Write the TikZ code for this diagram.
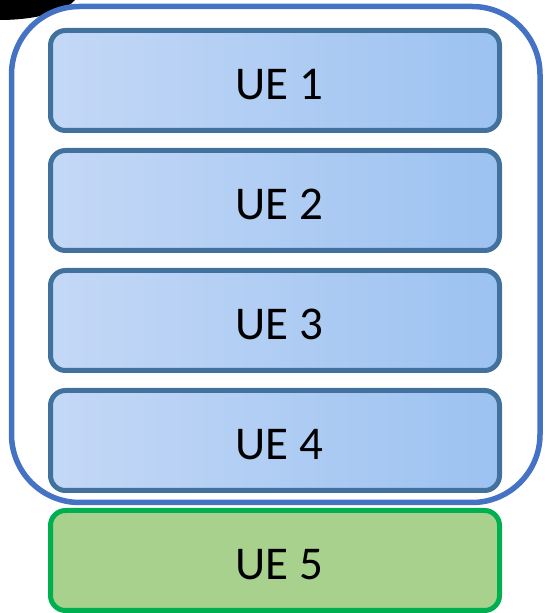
\documentclass[tikz,border=0pt]{standalone}
\usepackage{fontspec}
\setmainfont{Carlito}
\usetikzlibrary{shapes.geometric}
\definecolor{outerblue}{HTML}{4472C4}
\definecolor{uestroke}{HTML}{41719C}
\definecolor{uelight}{HTML}{C4D8F6}
\definecolor{uedark}{HTML}{9CC2F1}
\definecolor{gstroke}{HTML}{00B050}
\definecolor{gfill}{HTML}{A9D18E}
\tikzset{
  uetxt/.style={text height=38pt, text depth=0pt,
    font=\fontsize{47}{52}\selectfont},
  uebox/.style={uetxt, draw=uestroke, line width=5pt, rounded corners=15pt,
    left color=uelight, right color=uedark,
    minimum width=449pt, minimum height=100pt, inner sep=0pt},
  greenbox/.style={uetxt, draw=gstroke, line width=5pt, rounded corners=15pt,
    fill=gfill, minimum width=449pt, minimum height=100pt, inner sep=0pt},
  group/.style={draw=outerblue, line width=5.5pt, rounded corners=68pt,
    minimum width=528.5pt, minimum height=496pt, inner sep=0pt}
}
\newcommand{\uetext}[1]{\hspace*{9pt}#1}
\begin{document}
\begin{tikzpicture}[x=1pt,y=1pt]
\useasboundingbox (0,0) rectangle (545,613);
% black shape at top-left corner
\begin{scope}
\clip (0,0) rectangle (545,613);
\fill[black] (0,620.7) ellipse [x radius=78, y radius=27.7];
\end{scope}
\node[group] (grp) at (275.75,606.5-248) {};
\node[uebox] (ue1) at (275,613-80.5) {\uetext{UE 1}};
\node[uebox] (ue2) at (275,613-200.5) {\uetext{UE 2}};
\node[uebox] (ue3) at (275,613-320.5) {\uetext{UE 3}};
\node[uebox] (ue4) at (275,613-440.5) {\uetext{UE 4}};
\node[greenbox] (ue5) at (275,613-560.5) {\uetext{UE 5}};
\end{tikzpicture}
\end{document}
